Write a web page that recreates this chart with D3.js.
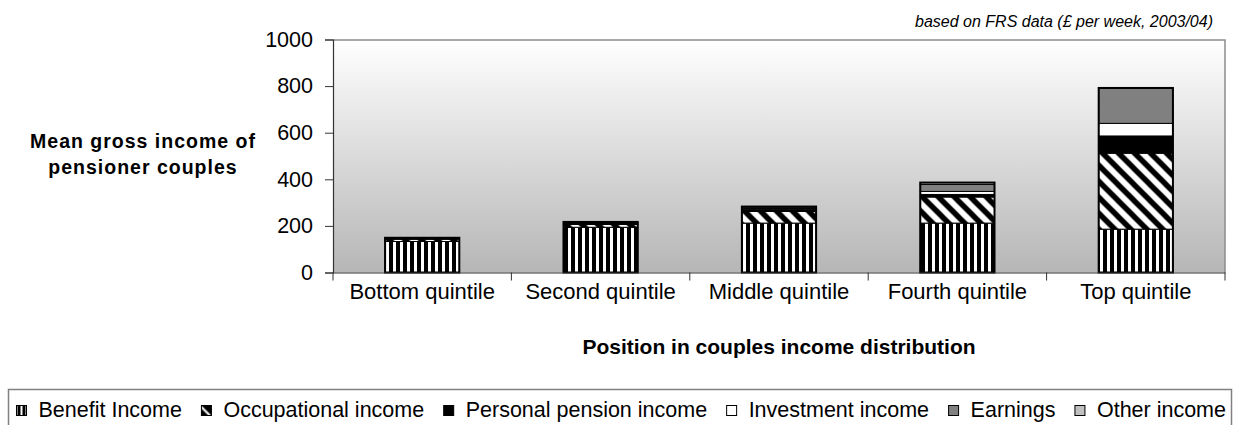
<!DOCTYPE html>
<html lang="en">
  <head>
    <meta charset="utf-8">
    <title>Pensioner couples income</title>
    <script src="https://d3js.org/d3.v7.min.js"></script>
    <style>
      html, body { margin: 0; background: #fff; overflow: hidden; }
      svg { display: block; }
      text { font-family: "Liberation Sans", Arial, sans-serif; fill: #000; }
    </style>
  </head>
  <body>
  <div id="chart"></div>
  <script>

  // data (£ per week)
  var quintiles = ["Bottom quintile", "Second quintile", "Middle quintile", "Fourth quintile", "Top quintile"];
  var sources = ["Benefit Income", "Occupational income", "Personal pension income", "Investment income", "Earnings", "Other income"];
  var benefit      = [133, 194, 212, 212, 186];
  var occupational = [10, 12, 50, 112, 326];
  var personal     = [2, 4, 8, 11, 74];
  var investment   = [2, 3, 5, 13, 54];
  var earnings     = [1, 3, 6, 30, 150];
  var other        = [1, 1, 2, 8, 2];
  var yTicks = [0, 200, 400, 600, 800, 1000];

  var w = 1233;
  var h = 425;
  var margin = {top: 39.5, right: 8, bottom: 152.5, left: 333};
  var innerWidth = w - margin.left - margin.right;
  var innerHeight = h - margin.top - margin.bottom;

  var svg = d3.select("#chart")
    .append("svg")
    .attr("width", w)
    .attr("height", h);

  var defs = svg.append("defs");

  var grad = defs.append("linearGradient")
    .attr("id", "bg")
    .attr("x1", 0).attr("y1", 0).attr("x2", 0).attr("y2", 1);
  grad.append("stop").attr("offset", "0%").attr("stop-color", "#ffffff");
  grad.append("stop").attr("offset", "100%").attr("stop-color", "#b6b6b6");

  // vertical stripes for benefit income
  var pv = defs.append("pattern")
    .attr("id", "pat-benefit")
    .attr("patternUnits", "userSpaceOnUse")
    .attr("width", 7).attr("height", 7);
  pv.append("rect").attr("width", 7).attr("height", 7).attr("fill", "#fff");
  pv.append("rect").attr("width", 4).attr("height", 7).attr("fill", "#000");

  // wide downward diagonal for occupational income
  var pd = defs.append("pattern")
    .attr("id", "pat-occ")
    .attr("patternUnits", "userSpaceOnUse")
    .attr("width", 16).attr("height", 16);
  pd.append("rect").attr("width", 16).attr("height", 16).attr("fill", "#fff");
  pd.append("path")
    .attr("d", "M-4,-4 L20,20 M-4,12 L4,20 M12,-4 L20,4")
    .attr("stroke", "#000")
    .attr("stroke-width", 5.5);

  // smaller versions for the legend keys
  var kv = defs.append("pattern")
    .attr("id", "key-benefit")
    .attr("patternUnits", "objectBoundingBox")
    .attr("width", 1).attr("height", 1);
  kv.append("rect").attr("width", 10).attr("height", 10).attr("fill", "#fff");
  kv.append("rect").attr("x", 1).attr("width", 3).attr("height", 10).attr("fill", "#000");
  kv.append("rect").attr("x", 6).attr("width", 3).attr("height", 10).attr("fill", "#000");

  var kd = defs.append("pattern")
    .attr("id", "key-occ")
    .attr("patternUnits", "objectBoundingBox")
    .attr("width", 1).attr("height", 1);
  kd.append("rect").attr("width", 10).attr("height", 10).attr("fill", "#fff");
  kd.append("path").attr("d", "M0,0 L10,0 L10,10 Z").attr("fill", "#000");
  kd.append("path").attr("d", "M0,3 L0,10 L7,10 Z").attr("fill", "#000");

  var fills = ["url(#pat-benefit)", "url(#pat-occ)", "#000000", "#ffffff", "#808080", "#c0c0c0"];
  var keyFills = ["url(#key-benefit)", "url(#key-occ)", "#000000", "#ffffff", "#808080", "#c0c0c0"];

  var rows = quintiles.map(function(q, i) {
    return {
      quintile: q,
      "Benefit Income": benefit[i],
      "Occupational income": occupational[i],
      "Personal pension income": personal[i],
      "Investment income": investment[i],
      "Earnings": earnings[i],
      "Other income": other[i]
    };
  });

  var stacked = d3.stack().keys(sources)(rows);

  var xScale = d3.scaleBand()
    .domain(quintiles)
    .range([0, innerWidth])
    .paddingInner(0.584)
    .paddingOuter(0.292);

  var yScale = d3.scaleLinear()
    .domain([0, 1000])
    .range([innerHeight, 0]);

  var g = svg.append("g")
    .attr("transform", `translate (${margin.left}, ${margin.top})`);

  // plot area
  g.append("rect")
    .attr("width", innerWidth)
    .attr("height", innerHeight)
    .attr("fill", "url(#bg)");
  g.append("path")
    .attr("d", `M0,0.5 H${innerWidth} V${innerHeight}`)
    .attr("fill", "none")
    .attr("stroke", "#8c8c8c")
    .attr("stroke-width", 1.5);

  // bars
  var layers = g.selectAll(".layer")
    .data(stacked)
    .enter().append("g")
    .attr("class", "layer")
    .attr("fill", (d, i) => fills[i]);

  layers.selectAll("rect")
    .data(d => d)
    .enter().append("rect")
    .attr("x", d => xScale(d.data.quintile))
    .attr("y", d => yScale(d[1]))
    .attr("width", xScale.bandwidth())
    .attr("height", d => yScale(d[0]) - yScale(d[1]))
    .attr("stroke", "#000")
    .attr("stroke-width", 1);

  // outline round each whole bar
  g.selectAll(".outline")
    .data(rows)
    .enter().append("rect")
    .attr("class", "outline")
    .attr("x", d => xScale(d.quintile))
    .attr("y", d => yScale(d3.sum(sources, k => d[k])))
    .attr("width", xScale.bandwidth())
    .attr("height", d => yScale(0) - yScale(d3.sum(sources, k => d[k])))
    .attr("fill", "none")
    .attr("stroke", "#000")
    .attr("stroke-width", 2);

  // y axis
  var yAxis = d3.axisLeft(yScale)
    .tickValues(yTicks)
    .tickFormat(d3.format("d"))
    .tickSize(8)
    .tickPadding(12);
  var ya = g.append("g").call(yAxis);
  ya.select(".domain").attr("stroke", "#333").attr("stroke-width", 1.2);
  ya.selectAll(".tick line").attr("stroke", "#333");
  ya.selectAll("text")
    .attr("font-size", "21.5px")
    .attr("font-family", '"Liberation Sans", Arial, sans-serif');

  // x axis
  var xAxis = d3.axisBottom(xScale).tickSize(0).tickPadding(26);
  var xa = g.append("g")
    .attr("transform", `translate (0, ${innerHeight})`)
    .call(xAxis);
  xa.select(".domain").attr("stroke", "#333").attr("stroke-width", 1.2);
  xa.selectAll("text")
    .attr("font-size", "22px")
    .attr("font-family", '"Liberation Sans", Arial, sans-serif')
    .attr("dy", 0);

  // category boundary ticks
  xa.selectAll(".boundary")
    .data(d3.range(quintiles.length + 1))
    .enter().append("line")
    .attr("class", "boundary")
    .attr("x1", i => xScale.step() * i)
    .attr("x2", i => xScale.step() * i)
    .attr("y1", 0)
    .attr("y2", 8)
    .attr("stroke", "#333");

  // axis titles
  svg.append("text")
    .attr("x", margin.left + innerWidth / 2)
    .attr("y", 354)
    .attr("text-anchor", "middle")
    .attr("font-size", "21px")
    .attr("font-weight", "bold")
    .text("Position in couples income distribution");

  var yTitle = svg.append("text")
    .attr("text-anchor", "middle")
    .attr("font-size", "19.5px")
    .attr("font-weight", "bold")
    .attr("letter-spacing", "1px");
  yTitle.append("tspan").attr("x", 143).attr("y", 148.3).text("Mean gross income of");
  yTitle.append("tspan").attr("x", 143).attr("y", 174).text("pensioner couples");

  svg.append("text")
    .attr("x", 1213)
    .attr("y", 27)
    .attr("text-anchor", "end")
    .attr("font-size", "16px")
    .attr("font-style", "italic")
    .text("based on FRS data (£ per week, 2003/04)");

  // legend
  svg.append("rect")
    .attr("x", 8.5)
    .attr("y", 389.5)
    .attr("width", 1223)
    .attr("height", 60)
    .attr("fill", "#fff")
    .attr("stroke", "#808080")
    .attr("stroke-width", 1.5);

  var legend = svg.append("g");
  var labels = sources.map(function(s) {
    return legend.append("text")
      .attr("y", 416.5)
      .attr("font-size", "21.5px")
      .text(s);
  });
  var widths = labels.map(t => t.node().getComputedTextLength());
  // spread the keys so the last label ends where the reference's does
  var used = 16 + d3.sum(widths) + sources.length * 22.5;
  var gap = (1226 - used) / (sources.length - 1);

  var lx = 16;
  sources.forEach(function(s, i) {
    legend.append("rect")
      .attr("x", lx + 0.5)
      .attr("y", 405.5)
      .attr("width", 10)
      .attr("height", 10)
      .attr("fill", keyFills[i])
      .attr("stroke", "#000")
      .attr("stroke-width", 1);
    labels[i].attr("x", lx + 22.5);
    lx = lx + 22.5 + widths[i] + gap;
  });

  </script>
  </body>
</html>
